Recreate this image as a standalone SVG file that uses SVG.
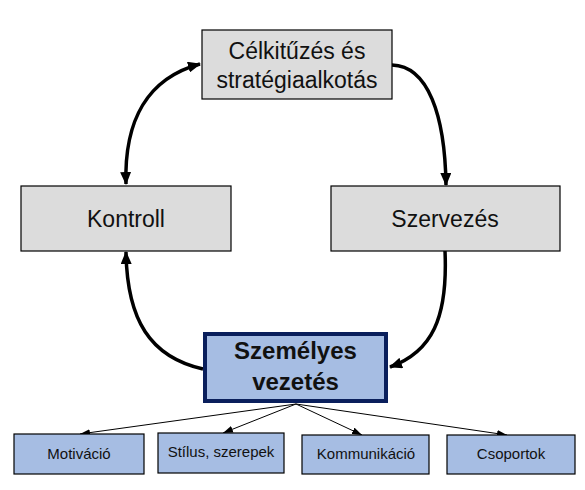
<svg xmlns="http://www.w3.org/2000/svg" width="585" height="490" viewBox="0 0 585 490">
<defs>
<style>
.gray{fill:#dcdcdc;stroke:#000;stroke-width:1.2}
.blue{fill:#a6bde3;stroke:#000;stroke-width:1.2}
.main{fill:#a6bde3;stroke:#0a1f5c;stroke-width:4}
.t{font-family:"Liberation Sans",Arial,sans-serif;font-size:23px;fill:#111;text-anchor:middle}
.tb{font-family:"Liberation Sans",Arial,sans-serif;font-size:24px;font-weight:bold;fill:#111;text-anchor:middle}
.ts{font-family:"Liberation Sans",Arial,sans-serif;font-size:15px;fill:#111;text-anchor:middle}
.thick{fill:none;stroke:#000;stroke-width:3.5}
.thin{fill:none;stroke:#000;stroke-width:1}
</style>
<marker id="big" markerUnits="userSpaceOnUse" viewBox="0 0 13 11" refX="12" refY="5.5" markerWidth="13" markerHeight="11" orient="auto-start-reverse">
<path d="M0,0 L13,5.5 L0,11 Z" fill="#000"/>
</marker>
<marker id="small" markerUnits="userSpaceOnUse" viewBox="0 0 10 7" refX="10" refY="3.5" markerWidth="10" markerHeight="7" orient="auto">
<path d="M0,0 L10,3.5 L0,7 Z" fill="#000"/>
</marker>
</defs>
<g id="connectors">
<path class="thick" d="M126,184 C124,120 148,78 200,64" marker-start="url(#big)" marker-end="url(#big)"/>
<path class="thick" d="M392,65 C428,66 445,115 446,185" marker-end="url(#big)"/>
<path class="thick" d="M445,251 C448,318 432,352 390,367" marker-end="url(#big)"/>
<path class="thick" d="M203,369 C150,357 127,320 126,252" marker-end="url(#big)"/>
<path class="thin" d="M296,404 L80,434" marker-end="url(#small)"/>
<path class="thin" d="M296,404 L223,433" marker-end="url(#small)"/>
<path class="thin" d="M296,404 L362,435" marker-end="url(#small)"/>
<path class="thin" d="M296,404 L507,435" marker-end="url(#small)"/>
</g>
<g id="celkituzes">
<rect class="gray" x="202" y="30" width="190" height="69"/>
<text class="t" x="297" y="59">Célkitűzés és</text>
<text class="t" x="297" y="88">stratégiaalkotás</text>
</g>
<g id="kontroll">
<rect class="gray" x="21" y="186" width="210" height="65"/>
<text class="t" x="126" y="227">Kontroll</text>
</g>
<g id="szervezes">
<rect class="gray" x="331" y="186" width="229" height="65"/>
<text class="t" x="445" y="227">Szervezés</text>
</g>
<g id="szemelyes">
<rect class="main" x="205" y="334" width="181" height="67"/>
<text class="tb" x="295.5" y="359">Személyes</text>
<text class="tb" x="295.5" y="390">vezetés</text>
</g>
<g id="motivacio">
<rect class="blue" x="14" y="434" width="130" height="40"/>
<text class="ts" x="79" y="459">Motiváció</text>
</g>
<g id="stilus">
<rect class="blue" x="158" y="433" width="126" height="40"/>
<text class="ts" x="221" y="457">Stílus, szerepek</text>
</g>
<g id="kommunikacio">
<rect class="blue" x="302" y="435" width="127" height="39"/>
<text class="ts" x="366" y="459">Kommunikáció</text>
</g>
<g id="csoportok">
<rect class="blue" x="447" y="435" width="128" height="39"/>
<text class="ts" x="511" y="459">Csoportok</text>
</g>
</svg>
